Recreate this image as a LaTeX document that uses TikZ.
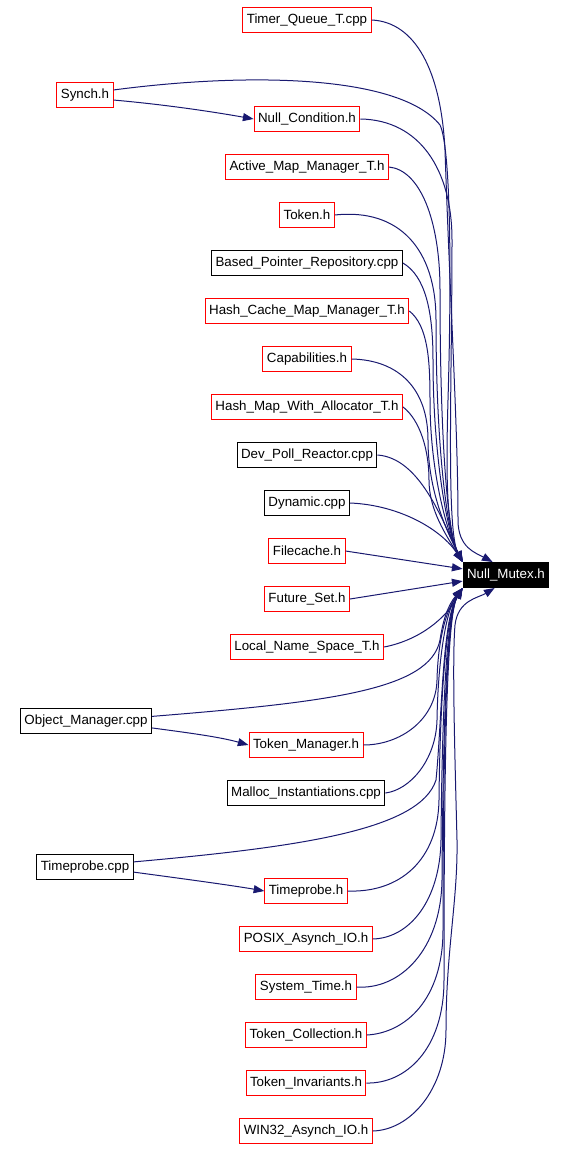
\documentclass[tikz,border=0pt]{standalone}
\usepackage{fontspec}
\setmainfont{Liberation Sans}
\usetikzlibrary{arrows.meta}
\definecolor{edgeblue}{RGB}{25,25,112}

\begin{document}
\begin{tikzpicture}[x=0.75pt,y=-0.75pt,
  file/.style={draw,line width=0.75pt,inner xsep=3pt,inner ysep=0pt,minimum height=18.75pt,font=\fontsize{10}{12}\selectfont},
  redfile/.style={file,draw=red},
  blkfile/.style={file,draw=black},
  target/.style={file,draw=black,fill=black,text=white},
  dep/.style={draw=edgeblue,line width=0.75pt,-{Triangle[length=8pt,width=6pt]},fill=none}]
\useasboundingbox (0,0) rectangle (563,1150);
\node[redfile] (1) at (307,20) {Timer\_Queue\_T.cpp};
\node[redfile] (2) at (85,95) {Synch.h};
\node[redfile] (3) at (307,119) {Null\_Condition.h};
\node[redfile] (4) at (307,167) {Active\_Map\_Manager\_T.h};
\node[redfile] (5) at (307,215) {Token.h};
\node[blkfile] (6) at (307,263) {Based\_Pointer\_Repository.cpp};
\node[redfile] (7) at (307,311) {Hash\_Cache\_Map\_Manager\_T.h};
\node[redfile] (8) at (307,359) {Capabilities.h};
\node[redfile] (9) at (307,407) {Hash\_Map\_With\_Allocator\_T.h};
\node[blkfile] (10) at (307,455) {Dev\_Poll\_Reactor.cpp};
\node[blkfile] (11) at (307,503) {Dynamic.cpp};
\node[redfile] (12) at (307,551) {Filecache.h};
\node[redfile] (13) at (307,599) {Future\_Set.h};
\node[redfile] (14) at (307,647) {Local\_Name\_Space\_T.h};
\node[target] (0) at (506,575) {Null\_Mutex.h};
\node[blkfile] (15) at (86,721) {Object\_Manager.cpp};
\node[redfile] (16) at (306,745) {Token\_Manager.h};
\node[blkfile] (17) at (306,793) {Malloc\_Instantiations.cpp};
\node[blkfile] (18) at (85,867) {Timeprobe.cpp};
\node[redfile] (19) at (306,891) {Timeprobe.h};
\node[redfile] (20) at (306,939) {POSIX\_Asynch\_IO.h};
\node[redfile] (21) at (306,987) {System\_Time.h};
\node[redfile] (22) at (306,1035) {Token\_Collection.h};
\node[redfile] (23) at (306,1083) {Token\_Invariants.h};
\node[redfile] (24) at (306,1131) {WIN32\_Asynch\_IO.h};
\coordinate (ul) at (0.north west);
\coordinate (ll) at (0.south west);
\coordinate (ur) at ([xshift=22.5pt]0.north west);
\coordinate (lr) at ([xshift=24pt]0.south west);
% upper fan
\path[dep] (1.east) .. controls (415,22) and (441,70) .. (445,150) .. controls (450,300) and (458,430) .. (458,520) .. controls (458,548) and (476,553) .. (ur);
\path[dep] (2.10) .. controls (250,72) and (400,75) .. (440,125) .. controls (452,150) and (451,300) .. (448,400) .. controls (446,470) and (446,530) .. (ul);
\path[dep] (2.-10) .. controls (170,105) and (220,113) .. (3.west);
\path[dep] (3.east) .. controls (420,120) and (452,170) .. (452,240) .. controls (452,380) and (446,530) .. (ul);
\path[dep] (4.east) .. controls (420,170) and (440,220) .. (440,290) .. controls (440,420) and (446,530) .. (ul);
\path[dep] (5.east) .. controls (400,208) and (436,250) .. (436,320) .. controls (436,440) and (446,530) .. (ul);
\path[dep] (6.east) .. controls (425,276) and (433,310) .. (433,360) .. controls (433,450) and (446,530) .. (ul);
\path[dep] (7.east) .. controls (428,326) and (430,360) .. (430,400) .. controls (430,470) and (446,530) .. (ul);
\path[dep] (8.east) .. controls (400,360) and (428,390) .. (428,440) .. controls (428,490) and (446,530) .. (ul);
\path[dep] (9.east) .. controls (420,420) and (429,450) .. (429,480) .. controls (429,510) and (446,535) .. (ul);
\path[dep] (10.east) .. controls (420,458) and (442,520) .. (ul);
\path[dep] (11.east) .. controls (400,505) and (442,530) .. (ul);
\path[dep] (12.east) -- (0.172);
\path[dep] (13.east) -- (0.188);
% lower fan
\path[dep] (14.east) .. controls (420,640) and (446,618) .. (ll);
\path[dep] (15.4) .. controls (330,702) and (430,690) .. (440,640) .. controls (443,620) and (448,605) .. (ll);
\path[dep] (15.-6) .. controls (190,733) and (220,737) .. (16.west);
\path[dep] (16.east) .. controls (400,745) and (436,720) .. (437,680) .. controls (438,640) and (446,610) .. (ll);
\path[dep] (17.east) .. controls (410,790) and (436,760) .. (437,720) .. controls (438,660) and (446,610) .. (ll);
\path[dep] (18.6) .. controls (300,847) and (420,830) .. (436,780) .. controls (442,720) and (442,620) .. (ll);
\path[dep] (18.-6) .. controls (170,877) and (230,885) .. (19.west);
\path[dep] (19.east) .. controls (400,893) and (438,860) .. (439,800) .. controls (440,700) and (446,615) .. (ll);
\path[dep] (20.east) .. controls (410,938) and (440,900) .. (441,840) .. controls (442,720) and (446,615) .. (ll);
\path[dep] (21.east) .. controls (400,990) and (441,950) .. (442,880) .. controls (443,740) and (446,615) .. (ll);
\path[dep] (22.east) .. controls (405,1033) and (443,1000) .. (443,930) .. controls (443,760) and (446,615) .. (ll);
\path[dep] (23.east) .. controls (405,1084) and (444,1050) .. (444,980) .. controls (444,780) and (446,615) .. (ll);
\path[dep] (24.east) .. controls (410,1130) and (446,1090) .. (446,1030) .. controls (446,950) and (458,900) .. (457,840) .. controls (455,760) and (452,660) .. (455,625) .. controls (458,600) and (478,598) .. (lr);
\end{tikzpicture}
\end{document}
